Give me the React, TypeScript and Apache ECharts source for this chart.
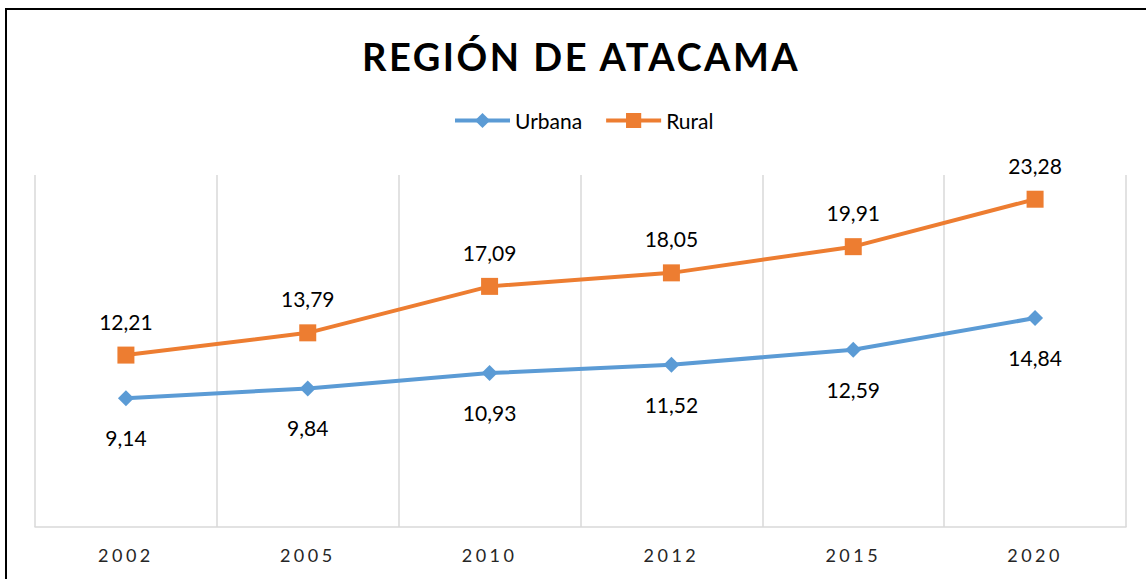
import React, { useEffect, useRef } from "react";
import * as echarts from "echarts";

const categories = ["2002", "2005", "2010", "2012", "2015", "2020"];
const urbana = [9.14, 9.84, 10.93, 11.52, 12.59, 14.84];
const rural = [12.21, 13.79, 17.09, 18.05, 19.91, 23.28];
const titleText = "REGIÓN DE ATACAMA";

const FONT = "Lato, 'Open Sans', sans-serif";
const fmt = (v: number) => v.toFixed(2).replace(".", ",");

export default function App() {
  const ref = useRef<HTMLDivElement>(null);
  useEffect(() => {
    if (!ref.current) return;
    const chart = echarts.init(ref.current, undefined, { renderer: "svg" });
    const option: any = {
      animation: false,
      backgroundColor: "#ffffff",
      title: {
        text: titleText,
        left: 357,
        top: 32,
        textStyle: { fontFamily: FONT, fontWeight: "bold", fontSize: 38, color: "#000000" },
      },
      legend: {
        data: ["Urbana", "Rural"],
        top: 105,
        left: 448,
        itemWidth: 55,
        itemHeight: 19,
        itemGap: 22,
        lineStyle: { width: 4 },
        textStyle: { fontFamily: FONT, fontSize: 21, color: "#000000" },
      },
      graphic: [
        {
          type: "rect",
          shape: { x: 6, y: 9, width: 1300, height: 700 },
          style: { fill: "none", stroke: "#000000", lineWidth: 2 },
          silent: true,
          z: 100,
        },
      ],
      grid: { left: 35, right: 20, top: 175, bottom: 52, containLabel: false },
      xAxis: {
        type: "category",
        data: categories,
        boundaryGap: true,
        axisLine: { show: true, lineStyle: { color: "#d9d9d9", width: 1.5 } },
        axisTick: { show: false },
        splitLine: { show: true, lineStyle: { color: "#d9d9d9", width: 1.5 } },
        axisLabel: { fontFamily: FONT, fontSize: 18, color: "#262626", margin: 19 },
      },
      yAxis: {
        type: "value",
        min: 0,
        max: 25,
        show: false,
        splitLine: { show: false },
      },
      series: [
        {
          name: "Urbana",
          type: "line",
          data: urbana,
          color: "#5B9BD5",
          symbol: "diamond",
          symbolSize: 16,
          lineStyle: { width: 4, color: "#5B9BD5" },
          itemStyle: { color: "#5B9BD5" },
          label: {
            show: true,
            position: "bottom",
            distance: 21,
            formatter: (p: any) => fmt(p.value),
            fontFamily: FONT,
            fontSize: 21,
            color: "#000000",
          },
        },
        {
          name: "Rural",
          type: "line",
          data: rural,
          color: "#ED7D31",
          symbol: "rect",
          symbolSize: 17,
          lineStyle: { width: 4, color: "#ED7D31" },
          itemStyle: { color: "#ED7D31" },
          label: {
            show: true,
            position: "top",
            distance: 15,
            formatter: (p: any) => fmt(p.value),
            fontFamily: FONT,
            fontSize: 21,
            color: "#000000",
          },
        },
      ],
    };
    chart.setOption(option);
    const applySpacing = () => {
      const root = ref.current;
      if (!root) return;
      root.querySelectorAll("text").forEach((t) => {
        const s = t.textContent || "";
        if (s === titleText) t.setAttribute("letter-spacing", "2.5");
        else if (categories.includes(s)) t.setAttribute("letter-spacing", "3.5");
      });
    };
    applySpacing();
    chart.on("finished", applySpacing);
    return () => chart.dispose();
  }, []);
  return (
    <div
      ref={ref}
      style={{ position: "absolute", left: 0, top: 0, width: 1146, height: 579 }}
    />
  );
}
